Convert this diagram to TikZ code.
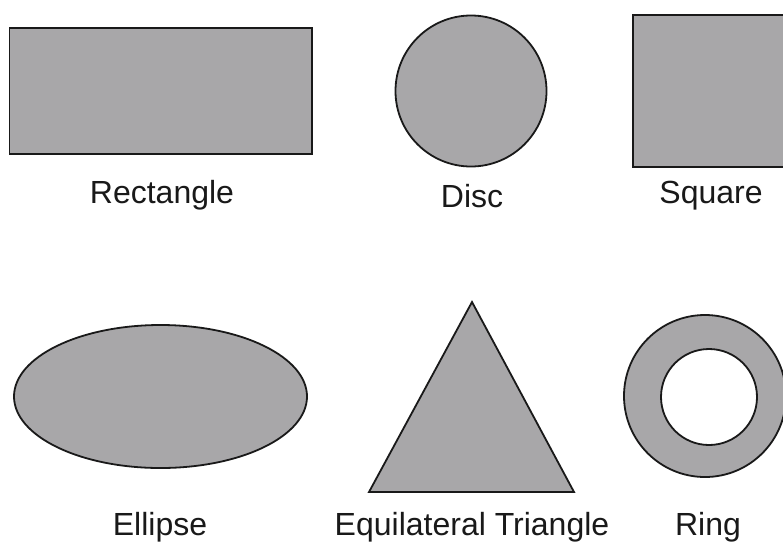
\documentclass[tikz,border=0pt]{standalone}
\usepackage{fontspec}
\setmainfont{Liberation Sans}
\definecolor{shapegray}{RGB}{168,167,169}
\definecolor{edgeblack}{RGB}{25,25,25}
\tikzset{
  shp/.style={fill=shapegray, draw=edgeblack, line width=1.8pt, line join=miter},
  lbl/.style={anchor=base, inner sep=0pt, text=black!90, font=\fontsize{32}{38}\selectfont}
}
\begin{document}
\begin{tikzpicture}[x=1pt, y=-1pt]
\fill[white] (0,0) rectangle (783,542);
\clip (0,0) rectangle (783,542);
% Rectangle
\draw[shp] (9.5,28) rectangle (312,154);
\node[lbl] (lrect) at (162,203) {Rectangle};
% Disc
\draw[shp] (471,91) circle (75.5);
\node[lbl] (ldisc) at (472,207) {Disc};
% Square
\draw[shp] (633,15) rectangle (787,167);
\node[lbl] (lsq) at (711,203) {Square};
% Ellipse
\draw[shp] (160.5,396.5) ellipse [x radius=146.5, y radius=71.5];
\node[lbl] (lell) at (160,535) {Ellipse};
% Triangle
\draw[shp] (472,302) -- (574,492) -- (369,492) -- cycle;
\node[lbl] (ltri) at (472,535) {Equilateral Triangle};
% Ring
\draw[shp, even odd rule] (705,396) circle (81) (709,397) circle (48);
\node[lbl] (lring) at (708,535) {Ring};
\end{tikzpicture}
\end{document}
